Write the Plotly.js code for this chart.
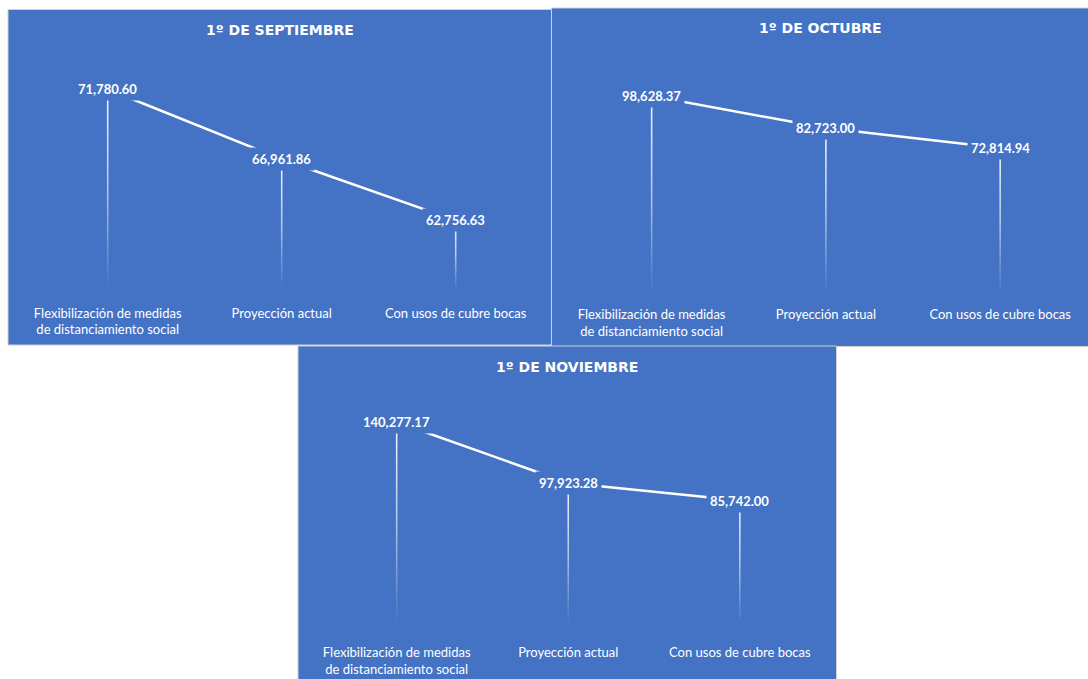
<!DOCTYPE html>
<html>
<head>
<meta charset="utf-8">
<script src="https://cdn.plot.ly/plotly-3.0.1.min.js"></script>
<style>
  html, body { margin: 0; padding: 0; background: #ffffff; }
  #chart { width: 1088px; height: 679px; }
</style>
</head>
<body>
<div id="chart"></div>
<script>
// ---- data ----
const categories = ['Flexibilización de medidas<br>de distanciamiento social', 'Proyección actual', 'Con usos de cubre bocas'];
const septiembre = [71780.60, 66961.86, 62756.63];
const octubre = [98628.37, 82723.00, 72814.94];
const noviembre = [140277.17, 97923.28, 85742.00];
const panelTitles = ['1º DE SEPTIEMBRE', '1º DE OCTUBRE', '1º DE NOVIEMBRE'];

// ---- layout helpers ----
const W = 1088, H = 679;
const BLUE = '#4472C4';
const FONT = 'Lato, sans-serif';
const TFONT = 'DejaVu Sans, sans-serif';
const px = x => x / W;
const py = y => 1 - y / H;

const panels = [
  { values: septiembre, title: panelTitles[0], box: [8, 9.5, 551.5, 345], titleY: 30,
    xdom: [20.7, 542.7], ydom: [57, 289.5], yrange: [58000, 74000], standoff: 14 },
  { values: octubre, title: panelTitles[1], box: [551.5, 8, 1090, 346.5], titleY: 28,
    xdom: [564.5, 1087.3], ydom: [53, 294.7], yrange: [0, 120000], standoff: 10 },
  { values: noviembre, title: panelTitles[2], box: [298, 346, 836.5, 690], titleY: 367,
    xdom: [310.9, 825.6], ydom: [393.6, 624], yrange: [0, 160000], standoff: 19 }
];

const fmt = v => v.toLocaleString('en-US', { minimumFractionDigits: 2, maximumFractionDigits: 2 });

const traces = [];
const shapes = [];
const annotations = [];
const layout = {
  width: W, height: H,
  margin: { l: 0, r: 0, t: 0, b: 0 },
  paper_bgcolor: '#ffffff',
  plot_bgcolor: 'rgba(0,0,0,0)',
  showlegend: false,
  font: { family: FONT, color: '#ffffff' }
};

panels.forEach((p, i) => {
  const n = i === 0 ? '' : String(i + 1);
  const xa = 'x' + n, ya = 'y' + n;
  const xs = p.values.map((_, k) => k);

  // panel background
  shapes.push({
    type: 'rect', xref: 'paper', yref: 'paper', layer: 'below',
    x0: px(p.box[0]), x1: px(p.box[2]), y0: py(p.box[3]), y1: py(p.box[1]),
    fillcolor: BLUE, line: { color: '#d0d0d0', width: 1 }
  });

  // drop lines (thin polygons with vertical gradient)
  const half = 0.0045;
  p.values.forEach((v, k) => {
    traces.push({
      type: 'scatter', mode: 'lines', xaxis: xa, yaxis: ya,
      x: [k - half, k + half, k + half, k - half, k - half],
      y: [p.yrange[0], p.yrange[0], v, v, p.yrange[0]],
      fill: 'toself', line: { width: 0, color: 'rgba(0,0,0,0)' },
      fillgradient: {
        type: 'vertical', start: p.yrange[0], stop: v,
        colorscale: [[0, 'rgba(255,255,255,0)'], [0.5, 'rgba(255,255,255,0.6)'], [1, 'rgba(255,255,255,0.95)']]
      },
      hoverinfo: 'skip'
    });
  });

  // main line
  traces.push({
    type: 'scatter', mode: 'lines', xaxis: xa, yaxis: ya,
    x: xs, y: p.values,
    line: { color: '#ffffff', width: 2.5 },
    hoverinfo: 'skip'
  });

  // data labels
  p.values.forEach((v, k) => {
    annotations.push({
      xref: xa, yref: ya, x: k, y: v,
      text: '<b>' + fmt(v) + '</b>', showarrow: false,
      bgcolor: BLUE, borderpad: 3,
      font: { family: FONT, size: 13, color: '#ffffff' }
    });
  });

  // title
  annotations.push({
    xref: 'paper', yref: 'paper',
    x: px((p.box[0] + Math.min(p.box[2], W + 0.5)) / 2), y: py(p.titleY),
    xanchor: 'center', yanchor: 'middle',
    text: '<b>' + p.title + '</b>', showarrow: false,
    font: { family: TFONT, size: 14, color: '#ffffff' }
  });

  layout['xaxis' + n] = {
    domain: [px(p.xdom[0]), Math.min(1, px(p.xdom[1]))],
    anchor: ya, range: [-0.5, 2.5],
    tickmode: 'array', tickvals: xs, ticktext: categories,
    showgrid: false, zeroline: false, showline: false, ticks: '',
    ticklabelstandoff: p.standoff,
    tickfont: { family: FONT, size: 13, color: '#ffffff' },
    fixedrange: true
  };
  layout['yaxis' + n] = {
    domain: [py(p.ydom[1]), py(p.ydom[0])],
    anchor: xa, range: p.yrange,
    visible: false, showgrid: false, zeroline: false,
    fixedrange: true
  };
});

layout.shapes = shapes;
layout.annotations = annotations;

Plotly.newPlot('chart', traces, layout, { staticPlot: true, displayModeBar: false });
</script>
</body>
</html>
